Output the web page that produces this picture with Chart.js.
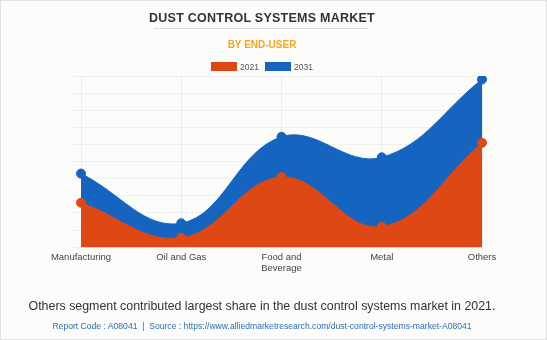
<!DOCTYPE html>
<html>
<head>
<meta charset="utf-8">
<script src="https://cdn.jsdelivr.net/npm/chart.js@4.4.1/dist/chart.umd.min.js"></script>
<style>
  html, body { margin: 0; padding: 0; }
  body { width: 547px; height: 340px; background: #fcfcfb; position: relative; overflow: hidden; font-family: "Liberation Sans", Arial, sans-serif; }
  #frame { position: absolute; left: 0; top: 0; width: 545px; height: 338px; border: 1px solid #e2e2e2; }
  .ctr { position: absolute; left: 0; width: 524px; text-align: center; white-space: nowrap; }
  #title { top: 11px; font-weight: bold; font-size: 12.5px; letter-spacing: 0.25px; color: #333; }
  #rule { position: absolute; top: 28px; left: 154px; width: 214px; height: 1px; background: #dcdcdc; }
  #subtitle { top: 39px; font-weight: bold; font-size: 10px; color: #f5a623; }
  #legend { top: 62px; font-size: 8.5px; color: #555; }
  #legend span.box { display: inline-block; width: 26px; height: 9px; vertical-align: -1px; margin-right: 3px; }
  #legend span.item { margin: 0 3px; }
  #note { top: 299px; font-size: 12.4px; color: #333; }
  #src { top: 321px; font-size: 8.6px; color: #2e6db4; }
  #wrap { position: absolute; left: 0; top: 0; width: 547px; height: 340px; }
</style>
</head>
<body>
<div id="frame"></div>
<div id="wrap"><canvas id="c" width="547" height="340"></canvas></div>
<div id="title" class="ctr">DUST CONTROL SYSTEMS MARKET</div>
<div id="rule"></div>
<div id="subtitle" class="ctr">BY END-USER</div>
<div id="legend" class="ctr"></div>
<div id="note" class="ctr">Others segment contributed largest share in the dust control systems market in 2021.</div>
<div id="src" class="ctr">Report Code : A08041 &nbsp;|&nbsp; Source : https://www.alliedmarketresearch.com/dust-control-systems-market-A08041</div>
<script>
const categories = ['Manufacturing', 'Oil and Gas', ['Food and', 'Beverage'], 'Metal', 'Others'];
const values2021 = [2.6, 0.55, 4.1, 1.2, 6.1];
const values2031 = [4.3, 1.4, 6.45, 5.25, 9.8];
const seriesNames = ['2021', '2031'];
const orange = '#DD4814';
const blue = '#1565C0';
const seriesColors = [orange, blue];

const legendEl = document.getElementById('legend');
seriesNames.forEach((name, i) => {
  const item = document.createElement('span');
  item.className = 'item';
  const box = document.createElement('span');
  box.className = 'box';
  box.style.background = seriesColors[i];
  item.appendChild(box);
  item.appendChild(document.createTextNode(name));
  legendEl.appendChild(item);
});

new Chart(document.getElementById('c'), {
  type: 'line',
  data: {
    labels: categories,
    datasets: [
      { label: seriesNames[0], data: values2021, backgroundColor: orange, borderColor: orange, pointBackgroundColor: orange, pointBorderColor: orange, fill: 'origin', tension: 0.4, pointRadius: 4.5, borderWidth: 1 },
      { label: seriesNames[1], data: values2031, backgroundColor: blue, borderColor: blue, pointBackgroundColor: blue, pointBorderColor: blue, fill: 'origin', tension: 0.4, pointRadius: 4.5, borderWidth: 1 }
    ]
  },
  options: {
    responsive: false,
    animation: false,
    devicePixelRatio: 1,
    layout: { padding: { top: 76, left: 74, right: 65, bottom: 65 } },
    plugins: {
      legend: { display: false },
      tooltip: { enabled: false }
    },
    scales: {
      x: {
        grid: { color: '#ececec', tickLength: 3 },
        border: { color: '#e0e0e0' },
        ticks: { font: { size: 9.5, family: 'Liberation Sans' }, color: '#444', maxRotation: 0, padding: 1 }
      },
      y: {
        min: 0, max: 10,
        grid: { color: '#f0f0f0', tickLength: 7 },
        border: { display: false },
        ticks: { stepSize: 1, display: false }
      }
    }
  }
});
</script>
</body>
</html>
